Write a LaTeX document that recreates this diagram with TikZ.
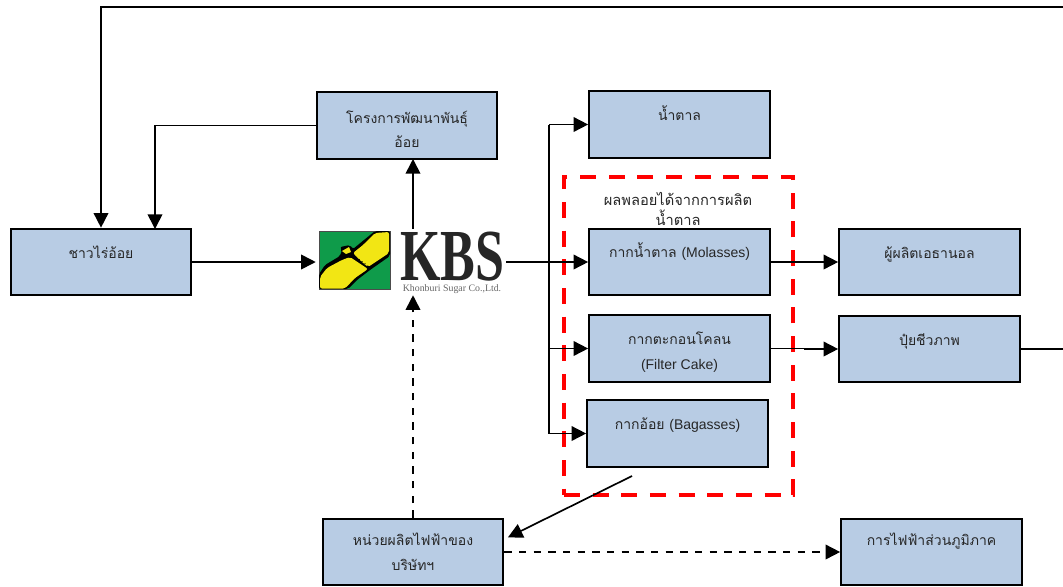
\documentclass[tikz,border=0pt]{standalone}
\usepackage{fontspec}
\setmainfont{Liberation Sans}
\setromanfont{Liberation Sans}
\newfontfamily\thaifont[Script=Thai]{Loma}
\newfontfamily\logofont{Liberation Serif}
\usetikzlibrary{arrows.meta}
\definecolor{boxblue}{HTML}{B8CCE4}
\definecolor{textdark}{HTML}{262626}
\definecolor{canegreen}{HTML}{0F9B4A}
\definecolor{caneyellow}{HTML}{F2E614}
\tikzset{
	blockbox/.style={draw=black,fill=boxblue,line width=1.5pt,minimum width=135.5pt,minimum height=50pt,inner sep=0pt,align=center,text=textdark,font=\thaifont\fontsize{10.5}{18.5}\selectfont},
	flow/.style={line width=1.25pt,-{Triangle[length=11pt,width=11pt]}},
	plainflow/.style={line width=1.25pt},
	dashflow/.style={line width=1.25pt,dash pattern=on 5.5pt off 5.5pt,-{Triangle[length=11pt,width=11pt]}}
}
\newcommand{\latin}[1]{{\rmfamily\fontsize{10.5}{18.5}\selectfont #1}}
\begin{document}
\begin{tikzpicture}[x=0.75pt,y=-0.75pt]
	\useasboundingbox (0,0) rectangle (1063,586);

	% caption goes under the boxes
	\node[align=center,text=textdark,font=\thaifont\fontsize{11}{15.5}\selectfont,inner sep=0pt] (bytitle) at (678,209) {ผลพลอยได้จากการผลิต\\น้ำตาล};

	\node[blockbox] (farmer) at (101,262) {ชาวไร่อ้อย\\[-4pt]~};
	\node[blockbox] (cane) at (407,125.5) {\rule{0pt}{15pt}โครงการพัฒนาพันธุ์\\อ้อย};
	\node[blockbox] (sugar) at (679.5,124.5) {น้ำตาล\\[-1.5pt]~};
	\node[blockbox] (molasses) at (679.5,262) {กากน้ำตาล \latin{(Molasses)}\\~};
	\node[blockbox] (filter) at (679.5,348.5) {\rule{0pt}{15pt}กากตะกอนโคลน\\\latin{(Filter Cake)}};
	\node[blockbox] (bagasse) at (677.5,433.5) {กากอ้อย \latin{(Bagasses)}\\[-3pt]~};
	\node[blockbox] (ethanol) at (929.5,262) {ผู้ผลิตเอธานอล\\[-4pt]~};
	\node[blockbox] (fertilizer) at (929.5,349) {ปุ๋ยชีวภาพ\\[-4pt]~};
	\node[blockbox] (plant) at (413,552) {หน่วยผลิตไฟฟ้าของ\\บริษัทฯ};
	\node[blockbox] (pea) at (931.5,552) {การไฟฟ้าส่วนภูมิภาค\\~};

	% logo
	\node[minimum width=139.5pt,minimum height=49.5pt,inner sep=0pt] (logo) at (413,262) {};
	\fill[canegreen,draw=black!70,line width=0.6pt] (319,231) rectangle (390,289);
	\fill[black,rounded corners=1.5pt] (319,274) -- (325,265) -- (340,256) -- (342,250) -- (340,247) -- (350,245) -- (353,249) -- (375,231) -- (390,231) -- (390,256) -- (370,270) -- (357,280) -- (348,289) -- (319,289) -- cycle;
	\fill[caneyellow,rounded corners=1.5pt] (353,253) -- (363,245) -- (375,233) -- (389,232) -- (389,253) -- (368,267) -- (362,262) -- cycle;
	\fill[caneyellow,rounded corners=1.5pt] (320,277) -- (327,268) -- (342,260) -- (350,257) -- (368,269) -- (355,278) -- (345,288.5) -- (320,288.5) -- cycle;
	\fill[caneyellow] (342,251) -- (349,247) -- (351,252) -- (346,254) -- cycle;
	\draw[black,line width=0.7pt,dotted] (353,255) -- (368,266);
	\node[inner sep=0pt,xscale=0.71,font=\logofont\bfseries\fontsize{55}{55}\selectfont,text=black!85] (kbs) at (452.5,256.5) {KBS};
	\node[inner sep=0pt,font=\logofont\fontsize{7.4}{8}\selectfont,text=black!60] (kbsname) at (452,289.5) {Khonburi Sugar Co.,Ltd.};

	% group frame
	\node[draw=red,line width=3pt,dash pattern=on 12pt off 9.5pt,minimum width=172pt,minimum height=239pt,inner sep=0pt] (byproducts) at (678.5,336) {};

	\coordinate (topright) at (1063,7);
	\coordinate (branch) at (549,262);
	\coordinate (fertout) at (1063,349);
	\coordinate (bagout) at (632,476);

	\draw[flow] (topright) -- (101,7) -- (farmer.north);
	\draw[flow] (cane.west) -- (155,125.5) -- (155,229);
	\draw[flow,shorten >=3] (farmer.east) -- (logo.west);
	\draw[flow] (logo.north) -- (413,159);
	\draw[plainflow] (logo.east) -- (branch);
	\draw[plainflow] (549,124.5) -- (549,433.5);
	\draw[flow] (549,124.5) -- (sugar.west);
	\draw[flow] (branch) -- (molasses.west);
	\draw[flow] (549,348.5) -- (filter.west);
	\draw[flow] (549,433.5) -- (bagasse.west);
	\draw[flow] (molasses.east) -- (ethanol.west);
	\draw[flow] (filter.east) -- (805,348.5) -- (805,349) -- (fertilizer.west);
	\draw[plainflow] (fertilizer.east) -- (fertout);
	\draw[flow,shorten >=3] (bagout) -- (plant.8);
	\draw[dashflow] (plant.north) -- (logo.south);
	\draw[dashflow] (plant.east) -- (pea.west);
\end{tikzpicture}
\end{document}
